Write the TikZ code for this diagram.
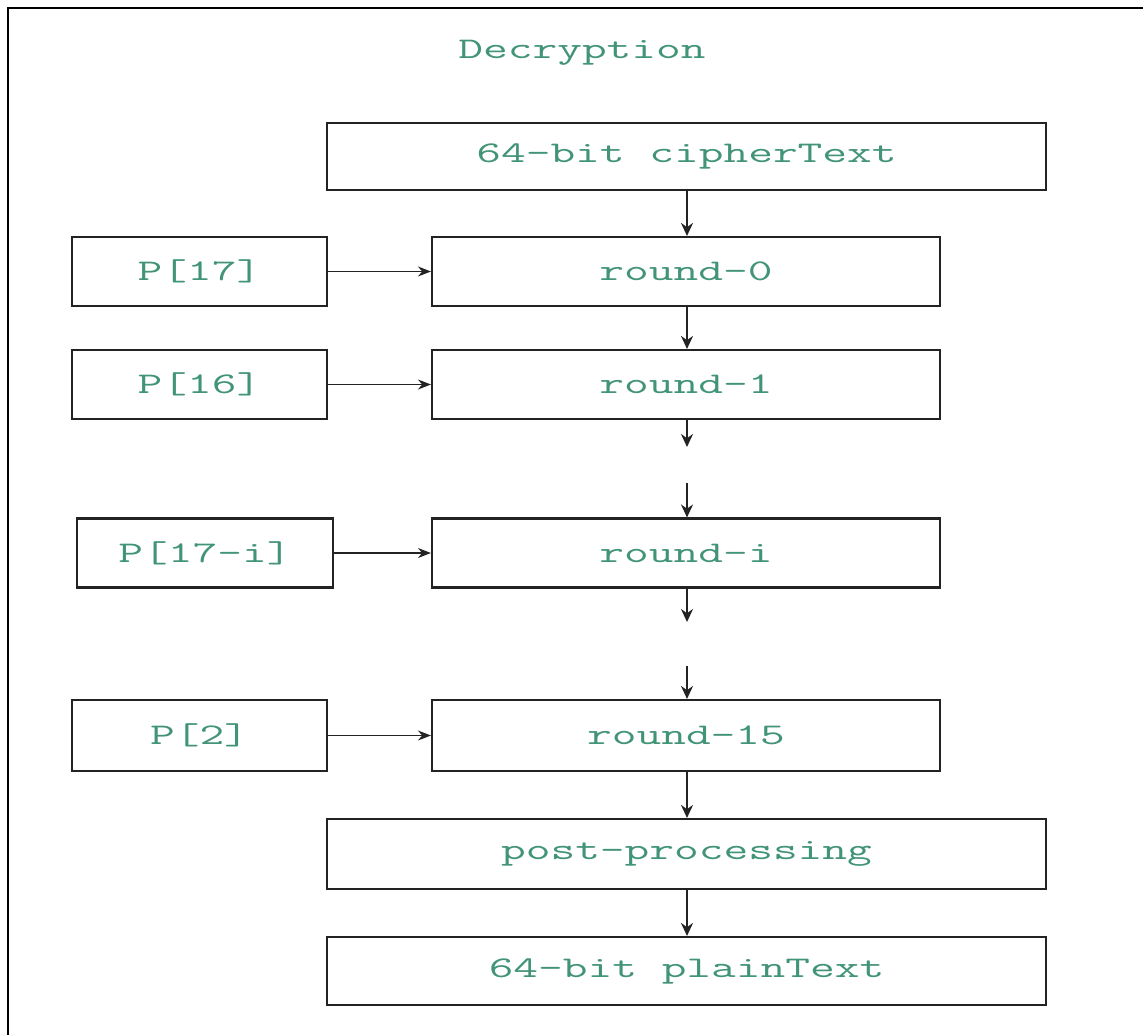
\documentclass[tikz,border=0pt]{standalone}
\usepackage{fontspec}
\usepackage{graphicx}
\usetikzlibrary{arrows.meta}
\definecolor{labelteal}{RGB}{66,148,118}
\definecolor{boxline}{RGB}{35,35,35}
% monospace labels, widened horizontally
\newcommand\wtext[1]{\scalebox{1.6}[1]{#1}}
\tikzset{
  lbl/.style={text=labelteal, font=\fontsize{30}{36}\selectfont\ttfamily},
  blk/.style={lbl, draw=boxline, line width=2.1pt, minimum height=69pt, inner sep=0pt},
  flow/.style={draw=boxline, line width=1.8pt, -{Stealth[length=13pt,width=12pt]}},
  feed/.style={draw=boxline, line width=1.3pt, -{Stealth[length=13pt,width=10pt]}},
}
\begin{document}
\begin{tikzpicture}[x=1pt,y=-1pt]
\useasboundingbox (0,0) rectangle (1143,1035);
\fill[white] (0,0) rectangle (1143,1035);
\draw[line width=2.8pt] (8,1035) -- (8,8) -- (1143,8);

\node[lbl] (title) at (582,53) {\wtext{Decryption}};

% main column
\node[blk, minimum width=719pt, minimum height=67pt] (ct) at (686.5,156.5) {\wtext{64-bit cipherText}};
\node[blk, minimum width=508pt] (r0)  at (686,271.5) {\wtext{round-0}};
\node[blk, minimum width=508pt] (r1)  at (686,384.5) {\wtext{round-1}};
\node[blk, minimum width=508pt] (ri)  at (686,553)   {\wtext{round-i}};
\node[blk, minimum width=508pt, minimum height=71pt] (r15) at (686,735.5) {\wtext{round-15}};
\node[blk, minimum width=719pt, minimum height=70pt] (post) at (686.5,854) {\wtext{post-processing}};
\node[blk, minimum width=719pt, minimum height=68pt] (pt) at (686.5,971) {\wtext{64-bit plainText}};

% subkeys
\node[blk, minimum width=255pt] (p17)  at (199.5,271.5) {\wtext{P[17]}};
\node[blk, minimum width=255pt] (p16)  at (199.5,384.5) {\wtext{P[16]}};
\node[blk, minimum width=256pt] (p17i) at (205,553)     {\wtext{P[17-i]}};
\node[blk, minimum width=255pt, minimum height=71pt] (p2) at (199.5,735.5) {\wtext{P[2]}};

% gaps in the round chain
\coordinate (g1a) at (687,447);
\coordinate (g1b) at (687,483);
\coordinate (g2a) at (687,622);
\coordinate (g2b) at (687,666);

% vertical data flow
\draw[flow] (ct.south -| g1a) -- (r0.north -| g1a);
\draw[flow] (r0.south -| g1a) -- (r1.north -| g1a);
\draw[flow] (r1.south -| g1a) -- (g1a);
\draw[flow] (g1b) -- (ri.north -| g1b);
\draw[flow] (ri.south -| g2a) -- (g2a);
\draw[flow] (g2b) -- (r15.north -| g2b);
\draw[flow] (r15.south -| g2a) -- (post.north -| g2a);
\draw[flow] (post.south -| g2a) -- (pt.north -| g2a);

% subkey inputs
\draw[feed] (p17.east)  -- (r0.west);
\draw[feed] (p16.east)  -- (r1.west);
\draw[feed] (p17i.east) -- (ri.west);
\draw[feed] (p2.east)   -- (r15.west);
\end{tikzpicture}
\end{document}
